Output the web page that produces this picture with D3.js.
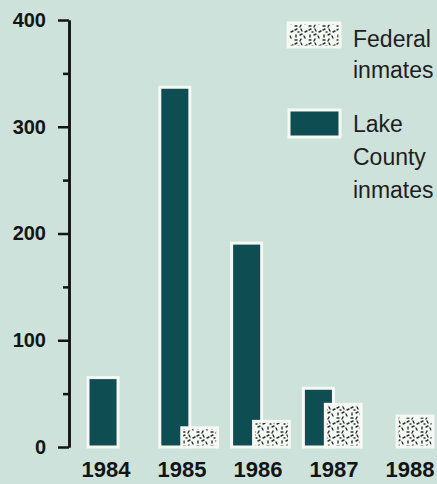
<!DOCTYPE html>
<html>
<head>
<meta charset="utf-8">
<script src="https://cdn.jsdelivr.net/npm/d3@7"></script>
<style>
  html, body { margin: 0; padding: 0; background: #cde2db; }
  svg { display: block; }
</style>
</head>
<body>
<div id="chart"></div>
<script>
// ---- data ----
const years = ["1984", "1985", "1986", "1987", "1988"];
const lakeCounty = [65, 337, 191, 55, 0];
const federal = [0, 18, 24, 40, 29];
const yTicksMajor = [0, 100, 200, 300, 400];
const yTicksMinor = [50, 150, 250, 350];
const legendLabels = [["Federal", "inmates"], ["Lake", "County", "inmates"]];

// ---- setup ----
const W = 437, H = 484;
const bg = "#cde2db", dark = "#0e4e52", ink = "#141414", paper = "#f6f8f4";

const svg = d3.select("#chart").append("svg")
  .attr("width", W).attr("height", H)
  .style("background", bg);

// speckle pattern for federal bars
const defs = svg.append("defs");
const pat = defs.append("pattern")
  .attr("id", "speckle").attr("patternUnits", "userSpaceOnUse")
  .attr("width", 14).attr("height", 14);
pat.append("rect").attr("width", 14).attr("height", 14).attr("fill", paper);
const marks = [
  [1, 2, 3, 1], [7, 1, 8, 3], [11, 4, 13, 3], [2, 7, 2, 9], [6, 7, 8, 6],
  [10, 8, 11, 10], [1, 12, 3, 12], [7, 11, 6, 13], [4, 4, 5, 4]
];
marks.forEach(m => pat.append("line")
  .attr("x1", m[0]).attr("y1", m[1]).attr("x2", m[2]).attr("y2", m[3])
  .attr("stroke", "#27322f").attr("stroke-width", 1.4).attr("stroke-linecap", "round"));

// ---- scales ----
const y = d3.scaleLinear().domain([0, 400]).range([447, 20]);
const x = d3.scaleBand().domain(years).range([88, 433])
  .paddingInner(14 / 71.8).paddingOuter(0).align(0);
const xl = d3.scalePoint().domain(years).range([106, 410]);

const bw = x.bandwidth();
const lakeW = bw * 0.52;
const fedOff = bw * 0.38, fedW = bw * 0.62;

// ---- axis ----
const axisMinor = d3.axisLeft(y).tickValues(yTicksMinor).tickSize(6)
  .tickFormat("").tickSizeOuter(0);
const axisMajor = d3.axisLeft(y).tickValues(yTicksMajor).tickSize(11)
  .tickPadding(12).tickSizeOuter(0);

const gMinor = svg.append("g").attr("transform", "translate(69,0)").call(axisMinor);
const gMajor = svg.append("g").attr("transform", "translate(69,0)").call(axisMajor);
[gMinor, gMajor].forEach(g => {
  g.select(".domain").attr("stroke", ink).attr("stroke-width", 2.5);
  g.selectAll(".tick line").attr("stroke", ink).attr("stroke-width", 2.5);
});
gMajor.selectAll(".tick text")
  .attr("fill", ink)
  .style("font-family", "'Liberation Sans', Arial, Helvetica, sans-serif")
  .style("font-weight", "bold").style("font-size", "20px");

// ---- bars ----
const lakeData = years.map((yr, i) => ({ yr, v: lakeCounty[i] })).filter(d => d.v > 0);
const fedData = years.map((yr, i) => ({ yr, v: federal[i] })).filter(d => d.v > 0);

svg.append("g").selectAll("rect").data(lakeData).join("rect")
  .attr("x", d => x(d.yr)).attr("width", lakeW)
  .attr("y", d => y(d.v)).attr("height", d => y(0) - y(d.v))
  .attr("fill", dark).attr("stroke", paper).attr("stroke-width", 3);

svg.append("g").selectAll("rect").data(fedData).join("rect")
  .attr("x", d => x(d.yr) + fedOff).attr("width", fedW)
  .attr("y", d => y(d.v)).attr("height", d => y(0) - y(d.v))
  .attr("fill", "url(#speckle)").attr("stroke", paper).attr("stroke-width", 3);

// ---- year labels ----
svg.append("g").selectAll("text").data(years).join("text")
  .attr("x", d => xl(d)).attr("y", 477)
  .attr("text-anchor", "middle")
  .attr("fill", ink)
  .style("font-family", "'Liberation Sans', Arial, Helvetica, sans-serif")
  .style("font-weight", "bold").style("font-size", "22px")
  .text(d => d);

// ---- legend ----
const lg = svg.append("g");
lg.append("rect").attr("x", 288).attr("y", 23).attr("width", 52).attr("height", 24)
  .attr("fill", "url(#speckle)").attr("stroke", paper).attr("stroke-width", 3);
lg.append("rect").attr("x", 289).attr("y", 110).attr("width", 51).attr("height", 27)
  .attr("fill", dark).attr("stroke", paper).attr("stroke-width", 3);

const legendBase = [47, 132];
const lineH = [31, 33];
legendLabels.forEach((lines, k) => {
  lines.forEach((t, j) => {
    lg.append("text")
      .attr("x", 353).attr("y", legendBase[k] + j * lineH[k])
      .attr("fill", "#1e1e1e")
      .style("font-family", "'Liberation Sans', Arial, Helvetica, sans-serif")
      .style("font-size", "23px")
      .text(t);
  });
});
</script>
</body>
</html>
